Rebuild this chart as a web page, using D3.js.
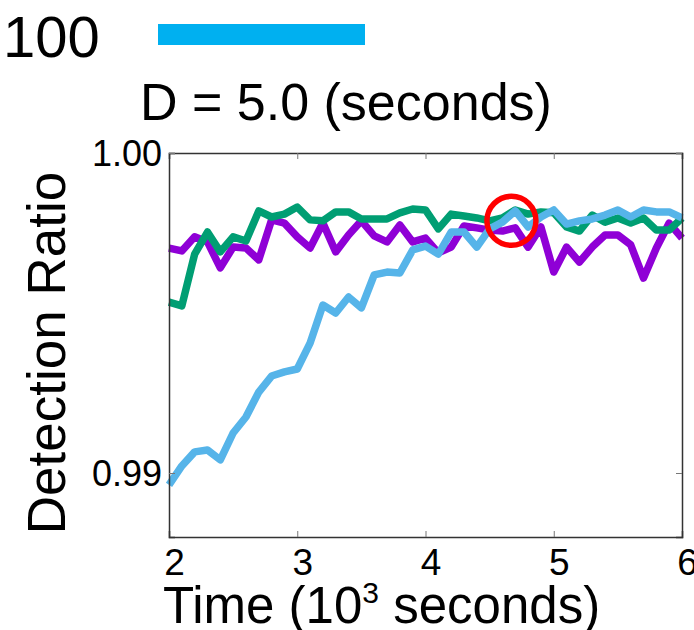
<!DOCTYPE html>
<html>
<head>
<meta charset="utf-8">
<script src="https://cdn.jsdelivr.net/npm/d3@7"></script>
<style>
  body { margin: 0; background: #fff; }
  text { font-family: "Liberation Sans", Arial, sans-serif; fill: #000; }
</style>
</head>
<body>
<div id="chart"></div>
<script>
// time in 10^3 seconds, step 0.1
var times = d3.range(41).map(function(i) { return +(2 + i * 0.1).toFixed(1); });

var purple = [0.99703, 0.99694, 0.99738, 0.99722, 0.99641, 0.99706, 0.99703, 0.99666, 0.99791, 0.99781,
              0.99738, 0.99703, 0.99781, 0.99691, 0.99744, 0.99788, 0.99741, 0.99722, 0.99775, 0.99722,
              0.99734, 0.99688, 0.99706, 0.99772, 0.99766, 0.99759, 0.99756, 0.99766, 0.99706, 0.99769,
              0.99628, 0.99706, 0.99659, 0.99706, 0.99744, 0.99744, 0.99713, 0.99609, 0.99703, 0.99781,
              0.99734];
var green = [0.99534, 0.99522, 0.99684, 0.99753, 0.99691, 0.99738, 0.99725, 0.99819, 0.99800, 0.99809,
             0.99831, 0.99791, 0.99788, 0.99816, 0.99816, 0.99794, 0.99794, 0.99794, 0.99813, 0.99825,
             0.99822, 0.99763, 0.99809, 0.99803, 0.99797, 0.99788, 0.99797, 0.99822, 0.99809, 0.99816,
             0.99813, 0.99769, 0.99756, 0.99806, 0.99784, 0.99797, 0.99781, 0.99797, 0.99759, 0.99759,
             0.99797];
var blue = [0.98963, 0.99022, 0.99066, 0.99072, 0.99041, 0.99125, 0.99175, 0.99253, 0.99303, 0.99316,
            0.99325, 0.99406, 0.99525, 0.99500, 0.99550, 0.99516, 0.99619, 0.99628, 0.99625, 0.99697,
            0.99709, 0.99684, 0.99753, 0.99753, 0.99706, 0.99763, 0.99784, 0.99819, 0.99769, 0.99800,
            0.99822, 0.99778, 0.99788, 0.99794, 0.99806, 0.99822, 0.99800, 0.99822, 0.99816, 0.99816,
            0.99797];

var xTicks = [2, 3, 4, 5, 6];
var yTicks = [0.99, 1.00];
var highlight = [4.67, 0.99788];

var margin = {top: 153, left: 169};
var w = 513, h = 384;

var svg = d3.select("#chart").append("svg")
    .attr("width", 694)
    .attr("height", 630);

// legend fragment at the top
svg.append("text")
    .attr("x", 3).attr("y", 57)
    .style("font-size", "58px")
    .text("100");
svg.append("rect")
    .attr("x", 158).attr("y", 24)
    .attr("width", 207).attr("height", 21)
    .attr("fill", "#00b0f0");

svg.append("text")
    .attr("x", 140).attr("y", 120)
    .style("font-size", "52px")
    .text("D = 5.0 (seconds)");

var g = svg.append("g")
    .attr("transform", "translate(" + margin.left + "," + margin.top + ")");

var xScale = d3.scaleLinear().domain([2, 6]).range([0, w]);
var yScale = d3.scaleLinear().domain([0.988, 1.0]).range([h, 0]);

var line = d3.line()
    .x(function(d, i) { return xScale(times[i]); })
    .y(function(d) { return yScale(d); });

var series = [
    {data: purple, color: "#8f00d6"},
    {data: green, color: "#009e73"},
    {data: blue, color: "#56b4e9"}
];

series.forEach(function(s) {
    g.append("path")
        .datum(s.data)
        .attr("fill", "none")
        .attr("stroke", s.color)
        .attr("stroke-width", 7.5)
        .attr("stroke-linejoin", "round")
        .attr("d", line);
});

g.append("circle")
    .attr("cx", xScale(highlight[0]))
    .attr("cy", yScale(highlight[1]))
    .attr("r", 24.5)
    .attr("fill", "none")
    .attr("stroke", "#ff0000")
    .attr("stroke-width", 5.5);

// axes with inward ticks
var xBottom = g.append("g")
    .attr("transform", "translate(0," + h + ")")
    .call(d3.axisBottom(xScale).tickValues(xTicks).tickSize(-6).tickFormat(d3.format("d")));
xBottom.selectAll("text")
    .attr("y", 38).attr("dy", 0).attr("dx", 5)
    .style("font-size", "37px");

g.append("g")
    .call(d3.axisTop(xScale).tickValues(xTicks).tickSize(-6).tickFormat(""));

var yLeft = g.append("g")
    .call(d3.axisLeft(yScale).tickValues(yTicks).tickSize(-6).tickFormat(d3.format(".2f")));
yLeft.selectAll("text")
    .attr("x", -7).attr("dy", "0.36em")
    .style("font-size", "36px");

g.append("g")
    .attr("transform", "translate(" + w + ",0)")
    .call(d3.axisRight(yScale).tickValues(yTicks).tickSize(-6).tickFormat(""));

g.selectAll(".domain").attr("stroke", "#333").attr("stroke-width", 1.5);
g.selectAll(".tick line").attr("stroke", "#777");

// axis titles
var xl = svg.append("text")
    .attr("x", 163).attr("y", 623)
    .style("font-size", "51px");
xl.append("tspan").text("Time (10");
xl.append("tspan").attr("dy", -20).style("font-size", "30px").text("3");
xl.append("tspan").attr("dy", 20).text(" seconds)");

svg.append("text")
    .attr("transform", "translate(65,353) rotate(-90)")
    .attr("text-anchor", "middle")
    .style("font-size", "53px")
    .text("Detection Ratio");
</script>
</body>
</html>
